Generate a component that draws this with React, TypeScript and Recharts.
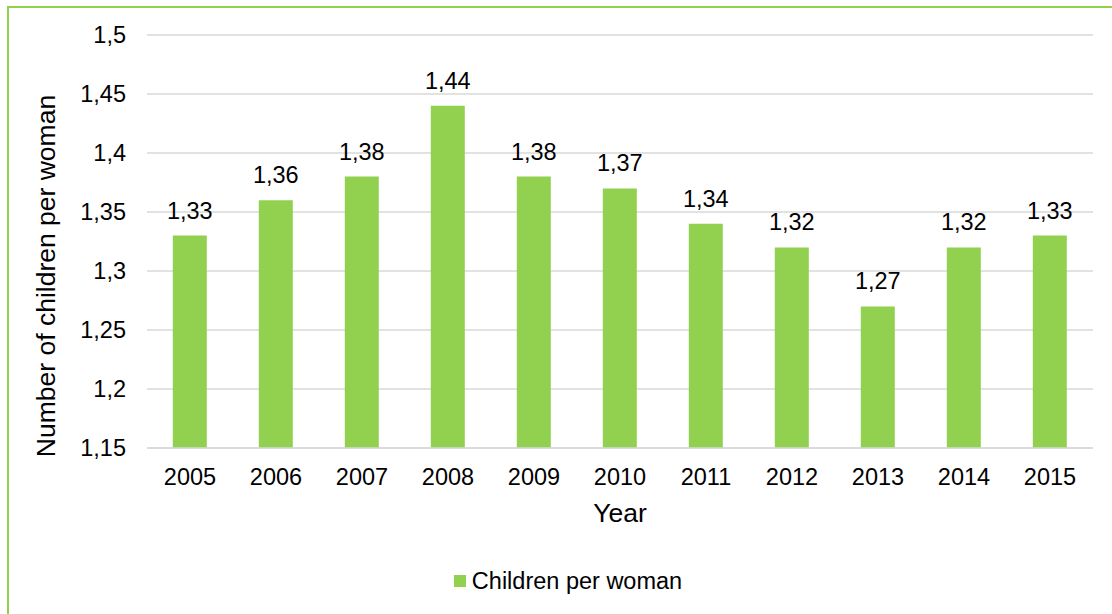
import { BarChart, Bar, XAxis, YAxis, CartesianGrid, Legend, LabelList, Label } from 'recharts';

const years = ['2005', '2006', '2007', '2008', '2009', '2010', '2011', '2012', '2013', '2014', '2015'];
const childrenPerWoman = [1.33, 1.36, 1.38, 1.44, 1.38, 1.37, 1.34, 1.32, 1.27, 1.32, 1.33];
const yTicks = [1.15, 1.2, 1.25, 1.3, 1.35, 1.4, 1.45, 1.5];

const GREEN = '#92D050';
const GRID = '#D9D9D9';
const FONT = '"Liberation Sans", Arial, sans-serif';
const FS = 23.5;

const data = years.map((year, i) => ({ year, value: childrenPerWoman[i] }));

const comma = (v: number, digits?: number) =>
  (digits != null ? v.toFixed(digits) : String(v)).replace('.', ',');

function LegendContent() {
  return (
    <div style={{
      display: 'flex', justifyContent: 'center', alignItems: 'center',
      height: 30, paddingLeft: 43, fontFamily: FONT, fontSize: FS, color: '#000',
    }}>
      <span style={{ width: 12, height: 12, background: GREEN, marginRight: 6, display: 'inline-block' }} />
      <span style={{ lineHeight: '30px' }}>Children per woman</span>
    </div>
  );
}

function YTitle() {
  return (
    <text x={45.5} y={276} dy="0.355em" transform="rotate(-90 45.5 276)" textAnchor="middle"
      fontFamily={FONT} fontSize={26.5} fill="#000">
      Number of children per woman
    </text>
  );
}

export default function App() {
  return (
    <div style={{ position: 'fixed', left: 0, top: 0, width: 1112, height: 614, overflow: 'hidden', background: '#fff' }}>
      <div style={{
        position: 'absolute', left: 7, top: 6, width: 1200, height: 700,
        border: `2px solid ${GREEN}`,
      }} />
      <div style={{ position: 'absolute', left: 0, top: 0 }}>
        <BarChart width={1112} height={614} data={data} barCategoryGap="30%"
          margin={{ top: 35, right: 19, left: 0, bottom: 18 }}
          style={{ fontFamily: FONT }}>
          <CartesianGrid vertical={false} stroke={GRID} strokeWidth={1.3} />
          <XAxis dataKey="year" height={118} tickLine={false} axisLine={{ stroke: GRID, strokeWidth: 1.3 }}
            tickMargin={14} tick={{ fontSize: FS, fill: '#000' }} interval={0}>
            <Label value="Year" position="insideTop" offset={55} style={{ fontSize: 26.5, fill: '#000' }} />
          </XAxis>
          <YAxis width={147} domain={[1.15, 1.5]} ticks={yTicks} tickFormatter={(v: number) => comma(v)}
            axisLine={false} tickLine={false} tickMargin={15} tick={{ fontSize: FS, fill: '#000' }}
            allowDataOverflow>
            <Label content={<YTitle />} />
          </YAxis>
          <Legend verticalAlign="bottom" content={<LegendContent />} />
          <Bar dataKey="value" name="Children per woman" fill={GREEN} isAnimationActive={false}>
            <LabelList dataKey="value" position="top" offset={17}
              formatter={(v: any) => comma(Number(v), 2)}
              style={{ fontSize: FS, fill: '#000', fontFamily: FONT }} />
          </Bar>
        </BarChart>
      </div>
    </div>
  );
}
